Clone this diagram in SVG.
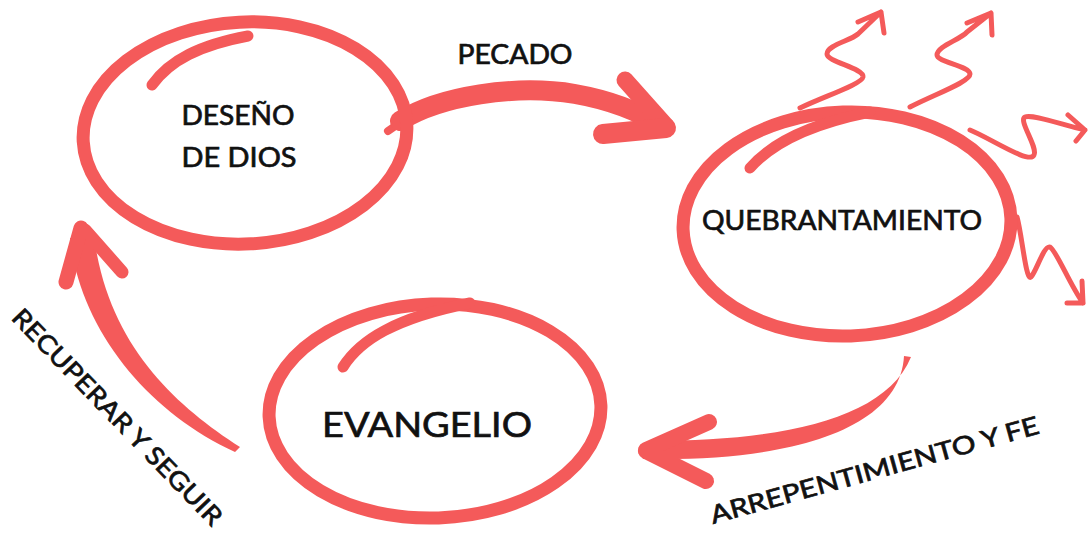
<svg xmlns="http://www.w3.org/2000/svg" width="1089" height="533" viewBox="0 0 1089 533">
<style>
  .ring { fill: none; stroke: #F45A5A; stroke-width: 13; }
  .hl { fill: none; stroke: #F45A5A; stroke-width: 11; stroke-linecap: round; }
  .arr { fill: none; stroke: #F45A5A; stroke-linecap: round; stroke-linejoin: round; }
  .sq { fill: none; stroke: #F45A5A; stroke-width: 5; stroke-linecap: round; stroke-linejoin: round; }
  .fillred { fill: #F45A5A; }
  .lbl { font-family: Lato, "Noto Sans", "Liberation Sans", sans-serif; font-weight: 400; fill: #111; stroke: #111; stroke-width: 0.7; }
</style>
<rect width="1089" height="533" fill="#ffffff"/>

<g id="connectors">
  <!-- PECADO arrow -->
  <g id="arrow-pecado">
    <path class="arr" stroke-width="8" d="M388,131 L404,120"/>
    <path class="arr" stroke-width="20" d="M400,121 C440,96 515,84 575,94 C615,101 645,115 664,127"/>
    <path class="arr" stroke-width="17" d="M625,80 L666,126"/>
    <path class="arr" stroke-width="20" d="M603,134 L666,128"/>
  </g>
  <!-- ARREPENTIMIENTO Y FE arrow -->
  <g id="arrow-arrepentimiento">
    <path class="fillred" d="M911,357 C885,420 780,441 650,441 L650,459 C795,461 900,428 904,356 Z"/>
    <path class="arr" stroke-width="16" d="M646,450 L709,422"/>
    <path class="arr" stroke-width="16" d="M646,451 L706,481"/>
  </g>
  <!-- RECUPERAR Y SEGUIR arrow -->
  <g id="arrow-recuperar">
    <path class="fillred" d="M240,447 C175,405 108,345 94,236 L70,238 C80,330 148,412 235,452 Z"/>
    <path class="arr" stroke-width="15" d="M81,228 L66,282"/>
    <path class="arr" stroke-width="13" d="M85,230 L122,272"/>
  </g>
  <!-- squiggly arrows -->
  <g id="squiggles">
    <path class="sq" d="M800,108 C825,96 862,84 863,77 C864,68 827,62 827,54 C827,45 850,41 858,34 L881,12 M858,22 L881,12 L884,33"/>
    <path class="sq" d="M910,107 C935,94 970,82 970,74 C970,66 937,62 937,55 C937,46 960,40 967,32 L991,13 M967,23 L991,13 L992,35"/>
    <path class="sq" d="M970,130 C990,138 1030,165 1034,155 C1038,147 1018,120 1025,117 C1032,114 1060,124 1085,130 M1068,115 L1085,130 L1076,141"/>
    <path class="sq" d="M1017,217 C1022,235 1026,282 1031,277 C1036,272 1044,245 1050,247 C1056,250 1070,285 1083,303 M1067,303 L1083,303 L1082,281"/>
  </g>
</g>

<g id="node-diseno">
  <ellipse class="ring" cx="245" cy="133" rx="162" ry="111" transform="rotate(-3 245 133)"/>
  <path class="hl" d="M152,85 C170,60 200,45 248,36"/>
  <text class="lbl" x="238" y="125" font-size="27" text-anchor="middle" textLength="113" lengthAdjust="spacingAndGlyphs">DESEÑO</text>
  <text class="lbl" x="239" y="167" font-size="27" text-anchor="middle" textLength="115" lengthAdjust="spacingAndGlyphs">DE DIOS</text>
</g>

<g id="node-quebrantamiento">
  <ellipse class="ring" cx="847" cy="224" rx="164" ry="112" transform="rotate(-2 847 224)"/>
  <path class="hl" d="M750,168 C770,145 805,125 870,112"/>
  <text class="lbl" x="842" y="230" font-size="27" text-anchor="middle" textLength="280" lengthAdjust="spacingAndGlyphs">QUEBRANTAMIENTO</text>
</g>

<g id="node-evangelio">
  <ellipse class="ring" cx="435" cy="411" rx="166" ry="107" transform="rotate(-2 435 411)"/>
  <path class="hl" d="M343,367 C360,340 395,318 470,303"/>
  <text class="lbl" x="427" y="437" font-size="35" text-anchor="middle" textLength="210" lengthAdjust="spacingAndGlyphs">EVANGELIO</text>
</g>

<g id="labels">
  <text class="lbl" x="515" y="64" font-size="26" text-anchor="middle" textLength="115" lengthAdjust="spacingAndGlyphs">PECADO</text>
  <text class="lbl" transform="translate(111,423) rotate(46)" x="0" y="0" font-size="25" text-anchor="middle" textLength="290" lengthAdjust="spacingAndGlyphs">RECUPERAR Y SEGUIR</text>
  <text class="lbl" transform="translate(713,524) rotate(-15.5)" x="0" y="0" font-size="25" textLength="340" lengthAdjust="spacingAndGlyphs">ARREPENTIMIENTO Y FE</text>
</g>
</svg>
